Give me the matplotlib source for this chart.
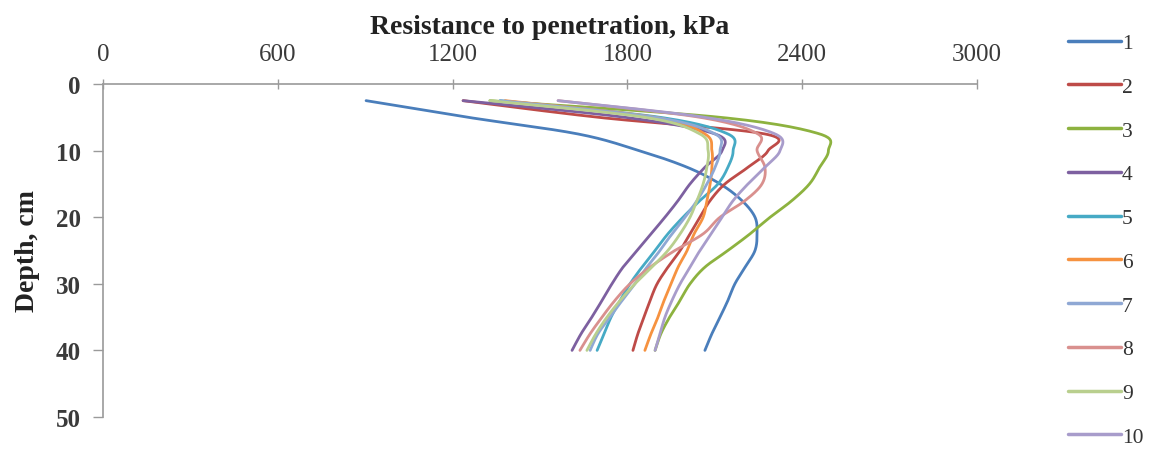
import numpy as np
import matplotlib
matplotlib.use("Agg")
import matplotlib.pyplot as plt

# ---------------- data ----------------
depth_cm = [2.5, 5, 7.5, 10, 12.5, 15, 17.5, 20, 22.5, 25, 27.5, 30, 32.5, 35, 37.5, 40]
series_labels = ["1", "2", "3", "4", "5", "6", "7", "8", "9", "10"]

s1 = [903, 1253, 1630, 1840, 2005, 2118, 2193, 2238, 2245, 2238, 2204, 2169, 2145, 2118, 2090, 2066]
s2 = [1236, 1700, 2272, 2283, 2214, 2135, 2084, 2049, 2015, 1981, 1939, 1902, 1878, 1857, 1836, 1819]
s3 = [1328, 2118, 2460, 2490, 2460, 2425, 2365, 2290, 2221, 2145, 2066, 2015, 1981, 1945, 1915, 1895]
s4 = [1236, 1792, 2101, 2125, 2066, 2015, 1974, 1929, 1881, 1833, 1785, 1747, 1713, 1678, 1641, 1610]
s5 = [1363, 1912, 2145, 2163, 2145, 2111, 2049, 1991, 1939, 1895, 1850, 1809, 1775, 1744, 1720, 1696]
s6 = [1380, 1895, 2066, 2090, 2090, 2084, 2073, 2060, 2029, 2005, 1974, 1950, 1926, 1905, 1881, 1860]
s7 = [1363, 1895, 2101, 2118, 2101, 2073, 2039, 1998, 1953, 1912, 1867, 1826, 1782, 1740, 1699, 1672]
s8 = [1562, 2049, 2248, 2245, 2272, 2262, 2204, 2118, 2060, 1963, 1878, 1809, 1757, 1713, 1672, 1637]
s9 = [1328, 1860, 2049, 2077, 2073, 2060, 2039, 2015, 1981, 1939, 1884, 1826, 1775, 1730, 1692, 1661]
s10 = [1562, 2066, 2307, 2324, 2272, 2214, 2163, 2125, 2087, 2049, 2015, 1981, 1953, 1929, 1912, 1895]

series_values = [s1, s2, s3, s4, s5, s6, s7, s8, s9, s10]

x_ticks = [0, 600, 1200, 1800, 2400, 3000]
y_ticks = [0, 10, 20, 30, 40, 50]

colors = ["#4A7EBB", "#BE4B48", "#8DB23F", "#7D60A0", "#46AAC5",
          "#F69240", "#8FA8D4", "#D9908E", "#B9CF8E", "#A89CCB"]

# ---------------- helpers ----------------
def smooth(xv, yv, sx=874 / 3000, sy=333 / 50, n=24):
    """Excel-like smoothed line (Catmull-Rom as cubic Bezier)."""
    P = np.column_stack([np.asarray(xv, float) * sx, np.asarray(yv, float) * sy])
    out = [P[0]]
    m = len(P)
    t = np.linspace(0, 1, n)[1:, None]
    for i in range(m - 1):
        p0 = P[i - 1] if i > 0 else P[i]
        p1 = P[i]
        p2 = P[i + 1]
        p3 = P[i + 2] if i + 2 < m else P[i + 1]
        c1 = p1 + (p2 - p0) / 6.0
        c2 = p2 - (p3 - p1) / 6.0
        seg = ((1 - t) ** 3) * p1 + 3 * ((1 - t) ** 2) * t * c1 + 3 * (1 - t) * t ** 2 * c2 + t ** 3 * p2
        out.extend(seg)
    out = np.array(out)
    return out[:, 0] / sx, out[:, 1] / sy

# ---------------- figure ----------------
W, H = 1158, 456
fig = plt.figure(figsize=(W / 100, H / 100), dpi=100)
fig.patch.set_facecolor("white")
serif = ["Liberation Serif", "DejaVu Serif"]

L, R, T, B = 103, 977, 85, 418
ax = fig.add_axes([L / W, 1 - B / H, (R - L) / W, (B - T) / H])

handles = []
for vals, lab, col in zip(series_values, series_labels, colors):
    xs, ys = smooth(vals, depth_cm)
    h, = ax.plot(xs, ys, color=col, lw=2.0, label=lab, solid_capstyle="round")
    handles.append(h)

ax.set_xlim(0, 3000)
ax.set_ylim(50, 0)
ax.set_xticks(x_ticks)
ax.set_yticks(y_ticks)
ax.xaxis.tick_top()
ax.set_xticklabels([str(v) for v in x_ticks], fontfamily=serif, fontsize=18, color="#3a3a3a")
ax.set_yticklabels([str(v) for v in y_ticks], fontfamily=serif, fontsize=18, color="#3a3a3a", fontweight="bold")
ax.tick_params(axis="x", direction="inout", length=7, width=1, color="#9a9a9a", pad=10)
ax.tick_params(axis="y", direction="out", length=7, width=1, color="#9a9a9a", pad=9)
for s in ["right", "bottom"]:
    ax.spines[s].set_visible(False)
for s in ["left", "top"]:
    ax.spines[s].set_color("#9a9a9a")
    ax.spines[s].set_linewidth(1.2)
ax.set_facecolor("white")

fig.text(550 / W, 1 - 27 / H, "Resistance to penetration, kPa", ha="center", va="center",
         fontfamily=serif, fontsize=20, fontweight="bold", color="#222222")
fig.text(27 / W, 1 - 251 / H, "Depth, cm", ha="center", va="center", rotation=90,
         fontfamily=serif, fontsize=20, fontweight="bold", color="#222222")

leg = fig.legend(handles=handles, labels=series_labels, loc="upper left",
                 bbox_to_anchor=(1068 / W, 1 - 34 / H), frameon=False,
                 prop={"family": serif, "size": 15.5}, handlelength=2.45,
                 handletextpad=0.05, labelspacing=1.1, borderpad=0, borderaxespad=0)
for t in leg.get_texts():
    t.set_color("#333333")
for lh in leg.get_lines():
    lh.set_linewidth(2.5)

fig.savefig("out.png", dpi=100, facecolor="white")
